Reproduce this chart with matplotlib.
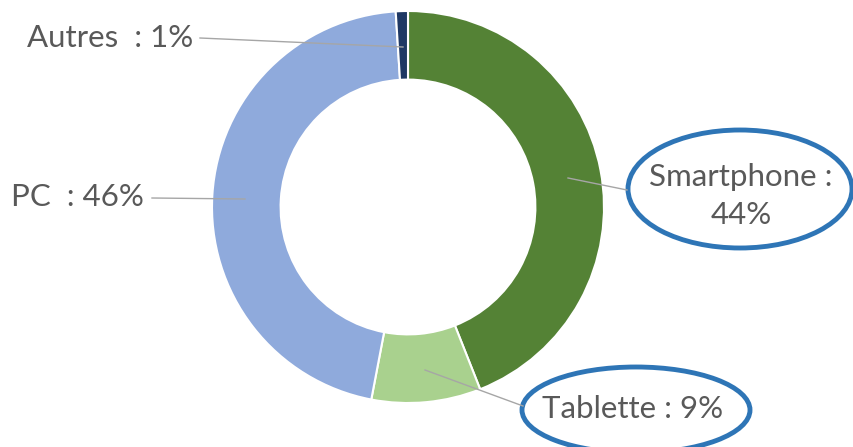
import matplotlib.pyplot as plt
from matplotlib.patches import Ellipse

# data
labels = ["Smartphone", "Tablette", "PC", "Autres"]
values = [44, 9, 46, 1]
colors = ["#548235", "#A9D18E", "#8FAADC", "#1F3864"]
label_texts = ["Smartphone :", "44%", "Tablette : 9%", "PC  : 46%", "Autres  : 1%"]

fig = plt.figure(figsize=(8.54, 4.47), dpi=100)
ax = fig.add_axes([0, 0, 1, 1])

H = 447
cx, cy, r = 408, H - 207, 196

ax.pie(values, colors=colors, startangle=90, counterclock=False,
       center=(cx, cy), radius=r, frame=True,
       wedgeprops=dict(width=r * 0.35, edgecolor="white", linewidth=1.5))
ax.set_xlim(0, 854)
ax.set_ylim(0, 447)
ax.set_aspect("equal")
ax.axis("off")

txt_color = "#595959"
line_color = "#A6A6A6"
font = "Lato"
fs = 22.5

# leader lines (image pixel coords, y downwards)
leaders = [
    [(568, 178), (627, 190)],
    [(425, 370), (523, 406)],
    [(245, 199), (152, 198)],
    [(403, 47), (200, 38)],
]
for (x0, y0), (x1, y1) in leaders:
    ax.plot([x0, x1], [H - y0, H - y1], color=line_color, lw=1.0)

kw = dict(fontsize=fs, color=txt_color, family=font, va="baseline")
ax.text(741, H - 186, label_texts[0], ha="center", **kw)
ax.text(741, H - 224, label_texts[1], ha="center", **kw)
ax.text(633, H - 418, label_texts[2], ha="center", **kw)
ax.text(144, H - 206, label_texts[3], ha="right", **kw)
ax.text(193, H - 47, label_texts[4], ha="right", **kw)

# highlight ellipses
ax.add_patch(Ellipse((740, H - 189), 224, 118, fill=False,
                     edgecolor="#2E75B6", lw=3.5))
ax.add_patch(Ellipse((636, H - 410), 228, 86, fill=False,
                     edgecolor="#2E75B6", lw=3.5))

plt.savefig("out.png", dpi=100)
